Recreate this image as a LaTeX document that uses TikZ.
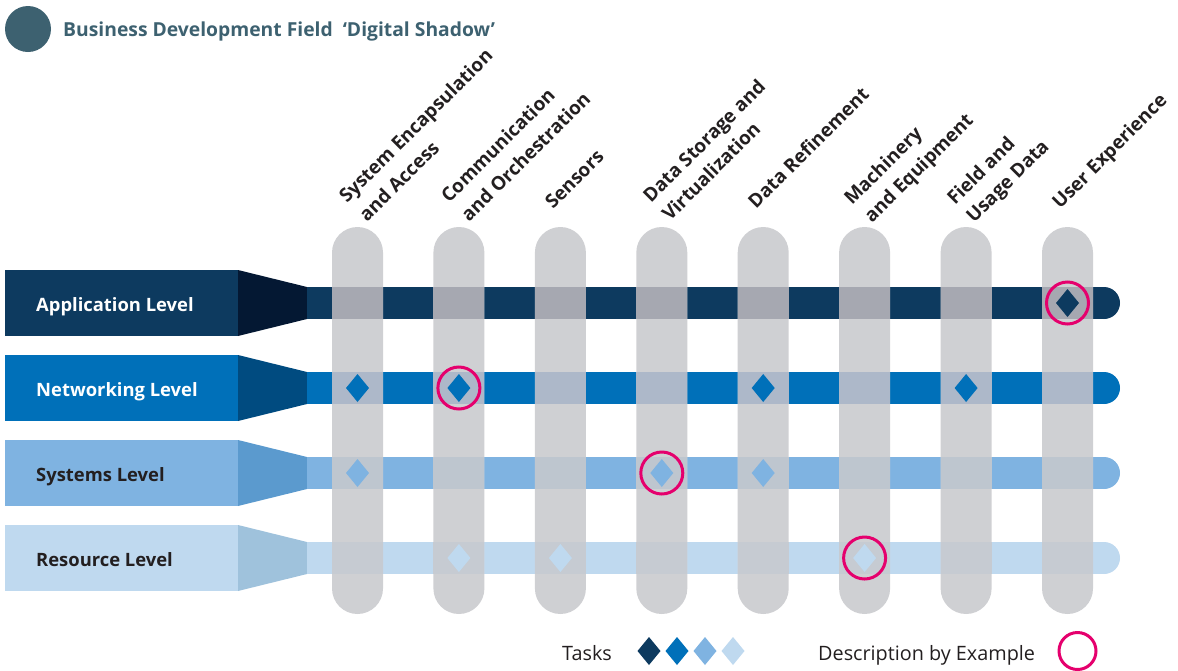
\documentclass[tikz,border=0pt]{standalone}
\usepackage{fontspec}
\setmainfont{Open Sans}
\definecolor{titlecol}{HTML}{3D6170}
\definecolor{appc}{HTML}{0D3A5F}
\definecolor{appt}{HTML}{041833}
\definecolor{appo}{HTML}{A6A8B1}
\definecolor{netc}{HTML}{0070B9}
\definecolor{nett}{HTML}{004B80}
\definecolor{neto}{HTML}{ADB8C9}
\definecolor{sysc}{HTML}{7FB3E1}
\definecolor{syst}{HTML}{5B9ACE}
\definecolor{syso}{HTML}{BEC6CF}
\definecolor{resc}{HTML}{BFD9EF}
\definecolor{rest}{HTML}{9FC2DC}
\definecolor{reso}{HTML}{C6CBD2}
\definecolor{colgray}{HTML}{CFD0D3}
\definecolor{magentac}{HTML}{E5006D}
\definecolor{txt}{HTML}{231F20}
\newcommand\mydia[3]{\fill[#3] ({#1},{#2-14}) -- ({#1+11.5},{#2}) -- ({#1},{#2+14}) -- ({#1-11.5},{#2}) -- cycle;}
\begin{document}
\begin{tikzpicture}[x=1pt,y=-1pt,
  collab/.style={rotate=45,anchor=base west,inner sep=0pt,text=txt,font=\bfseries\fontsize{19}{22}\selectfont},
  levlab/.style={anchor=base west,inner sep=0pt,font=\bfseries\fontsize{18.4}{20}\selectfont},
  legtxt/.style={anchor=base west,inner sep=0pt,text=txt,font=\fontsize{19.8}{22}\selectfont},
  example/.style={draw=magentac,line width=3pt},
  column/.style={fill=colgray,rounded corners=25.5pt}]
\useasboundingbox (0,0) rectangle (1178,670);
% title
\fill[titlecol] (28,29) circle (23);
\node[anchor=base west,inner sep=0pt,text=titlecol,font=\bfseries\fontsize{19.3}{22}\selectfont] (title) at (63,36) {Business Development Field\ \ ‘Digital Shadow’};
% level boxes and bars
\foreach \yc/\rc/\tc in {303/appc/appt,388/netc/nett,473/sysc/syst,558/resc/rest}{
  \fill[\rc] (5,\yc-33) rectangle (238,\yc+33);
  \fill[\tc] (238,\yc-33) -- (307,\yc-16) -- (307,\yc+16) -- (238,\yc+33) -- cycle;
  \fill[\rc] (307,\yc-16) rectangle (1104,\yc+16);
  \fill[\rc] (1104,\yc) circle (16);
}
\node[levlab,text=white] (app) at (36,311) {Application Level};
\node[levlab,text=white] (net) at (36,396) {Networking Level};
\node[levlab,text=txt] (sys) at (36,481) {Systems Level};
\node[levlab,text=txt] (res) at (36,566) {Resource Level};
% columns
\foreach \cx in {357.5,458.9,560.4,661.8,763.2,864.6,966.1,1067.5}{
  \fill[column] (\cx-25.5,227) rectangle (\cx+25.5,614);
  \fill[appo] (\cx-25.5,287) rectangle (\cx+25.5,319);
  \fill[neto] (\cx-25.5,372) rectangle (\cx+25.5,404);
  \fill[syso] (\cx-25.5,457) rectangle (\cx+25.5,489);
  \fill[reso] (\cx-25.5,542) rectangle (\cx+25.5,574);
}
% diamonds
\mydia{1067.5}{303}{appc}
\mydia{357.5}{388}{netc}
\mydia{458.9}{388}{netc}
\mydia{763.2}{388}{netc}
\mydia{966.1}{388}{netc}
\mydia{357.5}{473}{sysc}
\mydia{661.8}{473}{sysc}
\mydia{763.2}{473}{sysc}
\mydia{458.9}{558}{resc}
\mydia{560.4}{558}{resc}
\mydia{864.6}{558}{resc}
% examples
\draw[example] (1067.5,303) circle (21);
\draw[example] (458.9,388) circle (21);
\draw[example] (661.8,473) circle (21);
\draw[example] (864.6,558) circle (21);
% column labels
\node[collab] (c1a) at (347,204) {System Encapsulation};
\node[collab] (c1b) at (367,223) {and Access};
\node[collab] (c2a) at (449,204) {Communication};
\node[collab] (c2b) at (469,223) {and Orchestration};
\node[collab] (c3) at (553,210) {Sensors};
\node[collab] (c4a) at (651,204) {Data Storage and};
\node[collab] (c4b) at (670,222) {Virtualization};
\node[collab] (c5) at (756,210) {Data Refinement};
\node[collab] (c6a) at (852,206) {Machinery};
\node[collab] (c6b) at (872,224) {and Equipment};
\node[collab] (c7a) at (955,206) {Field and};
\node[collab] (c7b) at (974,224) {Usage Data};
\node[collab] (c8) at (1060,210) {User Experience};
% legend
\node[legtxt] (tasks) at (562,660) {Tasks};
\mydia{649}{651}{appc}
\mydia{677}{651}{netc}
\mydia{705}{651}{sysc}
\mydia{733}{651}{resc}
\node[legtxt] (descr) at (818,660) {Description by Example};
\draw[example] (1077.5,651) circle (18.5);
\end{tikzpicture}
\end{document}
